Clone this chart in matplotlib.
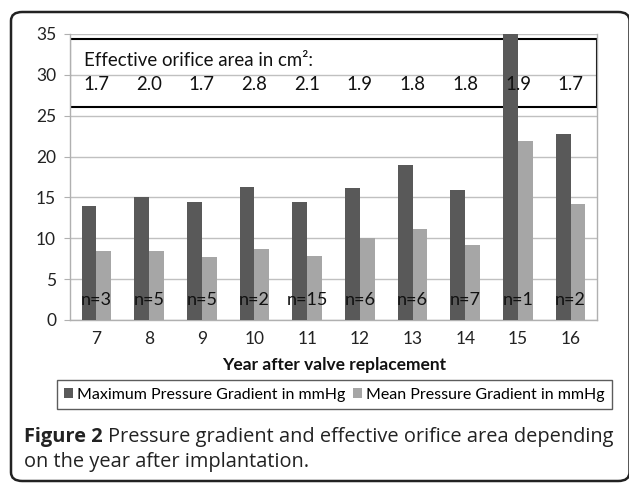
import matplotlib
matplotlib.use("Agg")
import matplotlib.pyplot as plt
from matplotlib.patches import Rectangle, FancyBboxPatch
import numpy as np

years = ["7", "8", "9", "10", "11", "12", "13", "14", "15", "16"]
max_gradient = [13.9, 15.0, 14.4, 16.3, 14.4, 16.2, 19.0, 15.9, 35.0, 22.8]
mean_gradient = [8.5, 8.4, 7.7, 8.7, 7.8, 10.0, 11.1, 9.2, 21.9, 14.2]
n_counts = ["n=3", "n=5", "n=5", "n=2", "n=15", "n=6", "n=6", "n=7", "n=1", "n=2"]
eoa = ["1.7", "2.0", "1.7", "2.8", "2.1", "1.9", "1.8", "1.8", "1.9", "1.7"]
yticks = [0, 5, 10, 15, 20, 25, 30, 35]

W, H = 629, 483
fig = plt.figure(figsize=(W / 100, H / 100), dpi=100)
chart_font = ["Lato", "DejaVu Sans"]
cap_font = ["Open Sans", "DejaVu Sans"]

def fx(px):
    return px / W

def fy(py):
    return 1 - py / H

ax = fig.add_axes([fx(70), fy(320), fx(597) - fx(70), fy(34) - fy(320)])
x = np.arange(len(years))
bw = 0.28
dark = "#595959"
light = "#a6a6a6"
ax.bar(x - bw / 2, max_gradient, bw, color=dark, zorder=3,
       label="Maximum Pressure Gradient in mmHg")
ax.bar(x + bw / 2, mean_gradient, bw, color=light, zorder=3,
       label="Mean Pressure Gradient in mmHg")

ax.set_xlim(-0.5, len(years) - 0.5)
ax.set_ylim(0, 35)
ax.set_yticks(yticks)
ax.set_xticks(x)
ax.set_xticklabels(years, fontfamily=chart_font, fontsize=12.5)
for lab in ax.get_yticklabels():
    lab.set_fontfamily(chart_font)
    lab.set_fontsize(12.5)
ax.tick_params(axis="y", length=4, color="#b0b0b0", pad=6, colors="#222222")
ax.tick_params(axis="x", length=0, pad=8, colors="#222222")
ax.yaxis.grid(True, color="#c0c0c0", lw=1.0, zorder=0)
ax.set_axisbelow(True)
for s in ["left", "bottom", "right"]:
    ax.spines[s].set_color("#b0b0b0")
    ax.spines[s].set_linewidth(1.0)
ax.spines["top"].set_visible(False)

# annotation box with effective orifice area
ax.add_patch(Rectangle((-0.5, 26.1), len(years), 34.36 - 26.1, fill=False,
                       edgecolor="black", lw=1.5, zorder=2))
ax.text(-0.24, 31.8, "Effective orifice area in cm²:", fontfamily=chart_font,
        fontsize=13.4, va="center", ha="left", zorder=5, color="#111111")
for i, v in enumerate(eoa):
    ax.text(x[i], 28.8, v, fontfamily=chart_font, fontsize=13.4,
            va="center", ha="center", zorder=5, color="#111111")
for i, n in enumerate(n_counts):
    ax.text(x[i], 2.4, n, fontfamily=chart_font, fontsize=13,
            va="center", ha="center", zorder=5, color="#111111")

fig.text(fx(334), fy(365), "Year after valve replacement", fontfamily=chart_font,
         fontsize=12.5, fontweight="bold", ha="center", va="center", color="#111111")

leg = fig.legend(loc="center", bbox_to_anchor=(fx(334.5), fy(394.5)), ncol=2,
                 prop={"family": chart_font, "size": 11.5}, frameon=True,
                 fancybox=False, edgecolor="#333333", handlelength=0.55,
                 handleheight=0.55, handletextpad=0.25, columnspacing=0.5,
                 borderpad=0.45, borderaxespad=0)
leg.get_frame().set_linewidth(1.0)

# caption
t1 = fig.text(fx(24), fy(437), "Figure 2", fontfamily=cap_font, fontsize=14.4,
              fontweight="bold", ha="left", va="center", color="#222222")
fig.canvas.draw()
bb = t1.get_window_extent()
fig.text(bb.x1 / W + fx(5), fy(437), "Pressure gradient and effective orifice area depending",
         fontfamily=cap_font, fontsize=14.4, ha="left", va="center", color="#222222")
fig.text(fx(24), fy(462), "on the year after implantation.", fontfamily=cap_font,
         fontsize=14.4, ha="left", va="center", color="#222222")

frame = FancyBboxPatch((fx(11), fy(481)), fx(629.5) - fx(11), fy(12) - fy(481),
                       boxstyle="round,pad=0,rounding_size=0.018",
                       transform=fig.transFigure, fill=False, edgecolor="#222222",
                       lw=1.8, clip_on=False)
fig.patches.append(frame)

fig.savefig("out.png", dpi=100)
